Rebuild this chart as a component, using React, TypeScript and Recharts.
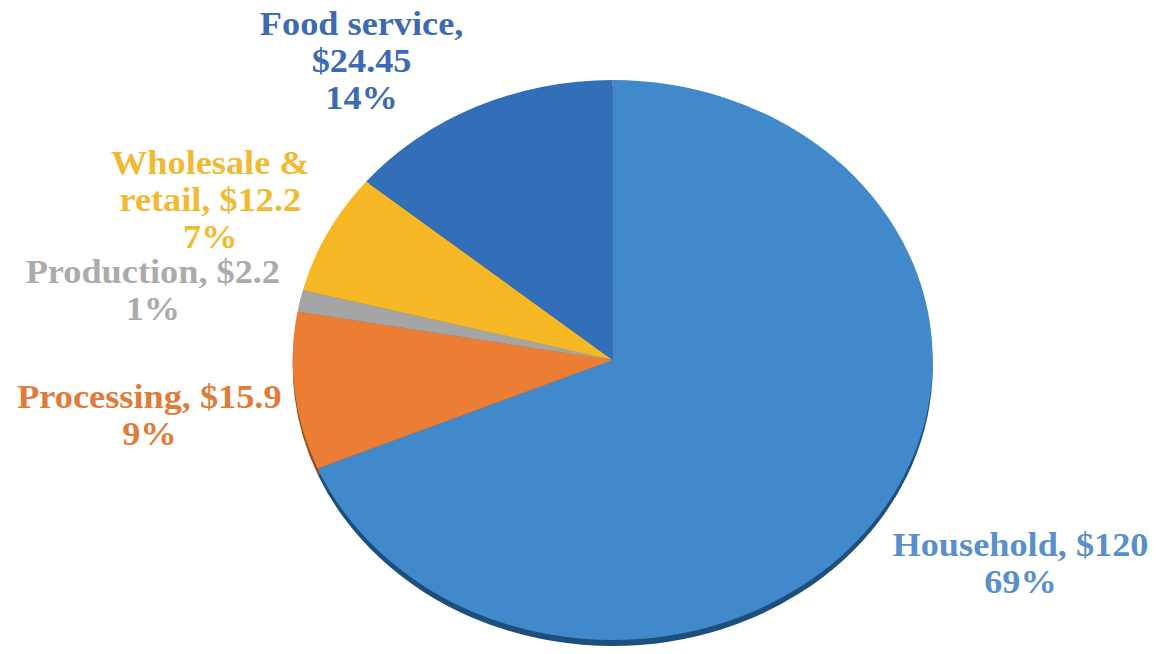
import { Cell, Pie, PieChart } from "recharts";

const categories = ["Household", "Processing", "Production", "Wholesale &\nretail", "Food service"];
const values = [120, 15.9, 2.2, 12.2, 24.45];
// the value goes on its own line for these labels
const valueOnOwnLine = [false, false, false, false, true];

const sliceColors = ["#4189CA", "#EC7D35", "#A5A5A5", "#F6B925", "#326FB8"];
const rimColors = ["#1D4F7E", "#9C4E1E", "#6E6E6E", "#A77A12", "#1E4A80"];
const labelColors = ["#5B8FCB", "#E07B39", "#ABABAB", "#F0BA33", "#3D6BB3"];

// hand nudges so labels sit where they were placed in the original
const labelNudge = [
  [30, -17],
  [-11, 11],
  [-15, 14],
  [3, 20],
  [-57, 60],
];

const data = categories.map((name, i) => ({ name, value: values[i] }));

const RADIAN = Math.PI / 180;
const SX = 1.143; // the pie is drawn as a flattened ellipse
const CX = 607;
const CY = 355;
const FS = 33;
const LH = 37;

function renderLabel(props: any) {
  const { cx, cy, midAngle, outerRadius, index, percent } = props;
  const r = outerRadius * 1.42;
  const x = cx + SX * r * Math.cos(-midAngle * RADIAN) + labelNudge[index][0];
  const y = cy + r * Math.sin(-midAngle * RADIAN) + labelNudge[index][1];
  const money = `$${values[index]}`;
  const nameLines = categories[index].split("\n");
  const lines = valueOnOwnLine[index]
    ? [...nameLines.slice(0, -1), nameLines[nameLines.length - 1] + ",", money]
    : [...nameLines.slice(0, -1), `${nameLines[nameLines.length - 1]}, ${money}`];
  lines.push(`${Math.round(percent * 100)}%`);
  const first = y - ((lines.length - 1) * LH) / 2 + FS * 0.35;
  return (
    <text
      key={`lbl-${index}`}
      x={x}
      y={first}
      textAnchor="middle"
      fill={labelColors[index]}
      fontFamily="'Liberation Serif', 'Times New Roman', serif"
      fontWeight="bold"
      fontSize={FS}
      transform={`translate(${x},0) scale(1.1,1) translate(${-x},0)`}
    >
      {lines.map((t, i) => (
        <tspan key={i} x={x} dy={i === 0 ? 0 : LH}>
          {t}
        </tspan>
      ))}
    </text>
  );
}

export default function App() {
  return (
    <div style={{ width: 1156, height: 654, background: "#fff" }}>
      <style>{`
        body { margin: 0; }
        .flat-pie path.recharts-sector { transform: scaleX(${SX}); transform-origin: ${CX}px 0px; }
      `}</style>
      <PieChart width={1156} height={654} className="flat-pie">
        <Pie
          data={data}
          dataKey="value"
          nameKey="name"
          cx={CX}
          cy={CY + 6}
          outerRadius={280}
          startAngle={90}
          endAngle={-270}
          stroke="none"
          isAnimationActive={false}
        >
          {data.map((d, i) => (
            <Cell key={d.name} fill={rimColors[i]} />
          ))}
        </Pie>
        <Pie
          data={data}
          dataKey="value"
          nameKey="name"
          cx={CX}
          cy={CY}
          outerRadius={280}
          startAngle={90}
          endAngle={-270}
          stroke="none"
          label={renderLabel}
          labelLine={false}
          isAnimationActive={false}
        >
          {data.map((d, i) => (
            <Cell key={d.name} fill={sliceColors[i]} />
          ))}
        </Pie>
      </PieChart>
    </div>
  );
}
